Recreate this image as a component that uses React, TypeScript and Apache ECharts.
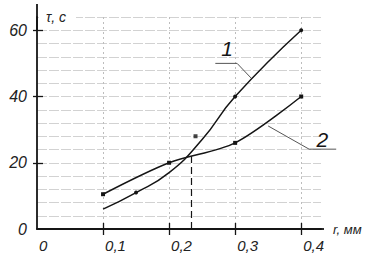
import React, { useEffect, useRef } from "react";
import * as echarts from "echarts";

// Curve 1 (steeper one)
const xCurve1 = [0.1, 0.15, 0.2, 0.25, 0.3, 0.4];
const yCurve1 = [6, 11, 17, 27, 40, 60];
const mark1 = [false, true, false, false, true, true];
// Curve 2
const xCurve2 = [0.1, 0.2, 0.3, 0.4];
const yCurve2 = [10.5, 20, 26, 40];
const mark2 = [true, true, true, true];
// isolated point
const xOutlier = [0.24];
const yOutlier = [28];
// crossing point
const crossX = 0.233;
const crossY = 22;
// axes
const xTickValues = [0.1, 0.2, 0.3, 0.4];
const xLabelValues = [0, 0.1, 0.2, 0.3, 0.4];
const yTickValues = [20, 40, 60];
const yLabelValues = [0, 20, 40, 60];
const curveNames = ["1", "2"];
const leader1 = [[0.27, 50], [0.303, 50], [0.324, 45.6]];
const leader2 = [[0.35, 31.1], [0.412, 24.1], [0.453, 24.1]];
const labelPos = [[0.288, 54.5], [0.432, 27]];

const FONT = '"Liberation Sans", "DejaVu Sans", sans-serif';
const INK = "#151515";

export default function App() {
  const ref = useRef<HTMLDivElement>(null);
  useEffect(() => {
    document.body.style.margin = "0";
    const chart = echarts.init(ref.current!, null, { renderer: "svg" });
    const lbl = {
      fontFamily: FONT,
      fontStyle: "italic" as const,
      fontSize: 16,
      color: "#222",
    };
    const fmtX = (v: number) => (v === 0 ? "0" : v.toFixed(1).replace(".", ","));
    const baseX = { type: "value" as const, min: 0, max: 0.43, interval: 0.1, position: "bottom" as const, offset: 0 };
    const baseY = { type: "value" as const, min: 0, max: 64, interval: 4, position: "left" as const, offset: 0 };
    chart.setOption({
      animation: false,
      grid: { left: 37, right: 65, top: 17, bottom: 31 },
      xAxis: [
        {
          ...baseX,
          axisLine: { show: false },
          axisTick: { show: false },
          axisLabel: { show: false },
          splitLine: {
            show: true,
            showMinLine: false,
            showMaxLine: false,
            lineStyle: { color: "#bdbdbd", type: [2, 3], width: 1 },
          },
        },
        {
          ...baseX,
          name: "r, мм",
          nameLocation: "end",
          nameGap: 12,
          nameTextStyle: { fontFamily: FONT, fontStyle: "italic", fontSize: 13, color: "#222", verticalAlign: "middle", padding: [0, 0, 2, 0] },
          axisLine: {
            show: true,
            symbol: ["none", "rect"],
            symbolSize: [1.8, 6],
            lineStyle: { color: INK, width: 1.8 },
          },
          axisTick: { show: true, customValues: xTickValues, length: 6, lineStyle: { color: INK, width: 1.3 } },
          axisLabel: { ...lbl, fontSize: 15, customValues: xLabelValues, formatter: fmtX, align: "left", padding: [0, 0, 0, 2], margin: 9 },
          splitLine: { show: false },
        },
        {
          ...baseX,
          axisLine: { show: false },
          axisTick: { show: true, inside: true, customValues: xTickValues, length: 6, lineStyle: { color: INK, width: 1.3 } },
          axisLabel: { show: false },
          splitLine: { show: false },
        },
      ],
      yAxis: [
        {
          ...baseY,
          axisLine: { show: false },
          axisTick: { show: false },
          axisLabel: { show: false },
          splitLine: { show: true, lineStyle: { color: "#d2d2d2", type: [10, 2], width: 1 } },
        },
        {
          ...baseY,
          axisLine: {
            show: true,
            symbol: ["none", "rect"],
            symbolSize: [1.8, 26],
            lineStyle: { color: INK, width: 1.8 },
          },
          axisTick: { show: true, customValues: yTickValues, length: 4, lineStyle: { color: INK, width: 1.3 } },
          axisLabel: { ...lbl, customValues: yLabelValues, margin: 10, padding: [0, 0, 9, 0] },
          splitLine: { show: false },
        },
        {
          ...baseY,
          axisLine: { show: false },
          axisTick: { show: true, inside: true, customValues: yTickValues, length: 6, lineStyle: { color: INK, width: 1.3 } },
          axisLabel: { show: false },
          splitLine: { show: false },
        },
      ],
      series: [
        {
          type: "line",
          smooth: 0.5,
          data: xCurve1.map((x, i) => ({
            value: [x, yCurve1[i]],
            symbol: mark1[i] ? "circle" : "none",
          })),
          symbolSize: 4,
          itemStyle: { color: INK },
          lineStyle: { color: INK, width: 1.5 },
        },
        {
          type: "line",
          smooth: 0.3,
          data: xCurve2.map((x, i) => ({
            value: [x, yCurve2[i]],
            symbol: mark2[i] ? "rect" : "none",
          })),
          symbolSize: 4,
          itemStyle: { color: INK },
          lineStyle: { color: INK, width: 1.5 },
          markLine: {
            silent: true,
            symbol: "none",
            label: { show: false },
            lineStyle: { color: INK, type: [7, 4], width: 1.2 },
            data: [[{ coord: [crossX, 0] }, { coord: [crossX, crossY] }]],
          },
        },
        {
          type: "scatter",
          data: xOutlier.map((x, i) => [x, yOutlier[i]]),
          symbol: "rect",
          symbolSize: 4,
          itemStyle: { color: INK },
        },
      ],
    });

    const px = (p: number[]) => chart.convertToPixel({ xAxisIndex: 0, yAxisIndex: 0 }, p) as number[];
    const l1 = leader1.map(px);
    const l2 = leader2.map(px);
    const t1 = px(labelPos[0]);
    const t2 = px(labelPos[1]);
    chart.setOption({
      graphic: [
        { type: "polyline", shape: { points: l1 }, style: { stroke: "#555", lineWidth: 1, fill: null } },
        { type: "polyline", shape: { points: l2 }, style: { stroke: "#555", lineWidth: 1, fill: null } },
        { type: "text", x: t1[0], y: t1[1], style: { text: curveNames[0], fontFamily: FONT, fontStyle: "italic", fontSize: 21, fill: INK, align: "center", verticalAlign: "middle" } },
        { type: "text", x: t2[0], y: t2[1], style: { text: curveNames[1], fontFamily: FONT, fontStyle: "italic", fontSize: 21, fill: INK, align: "center", verticalAlign: "middle" } },
        { type: "rect", shape: { x: 39, y: 10, width: 37, height: 14 }, style: { fill: "#fff" } },
        { type: "text", x: 46, y: 17, style: { text: "τ, с", fontFamily: FONT, fontStyle: "italic", fontSize: 14, fill: "#222", align: "left", verticalAlign: "middle" } },
      ],
    });
    return () => chart.dispose();
  }, []);
  return <div ref={ref} style={{ width: 386, height: 260 }} />;
}
